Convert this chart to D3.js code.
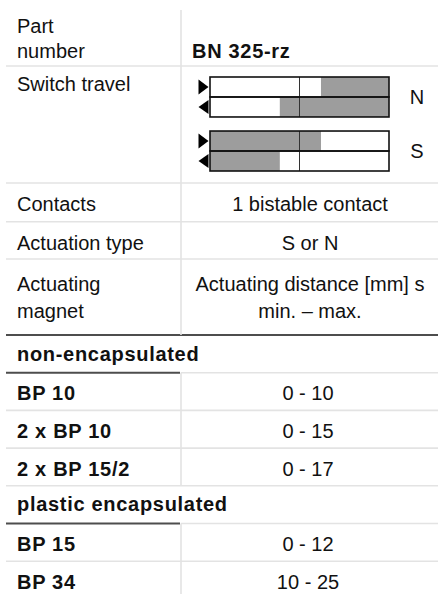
<!DOCTYPE html>
<html>
<head>
<meta charset="utf-8">
<script src="https://cdn.jsdelivr.net/npm/d3@7"></script>
<style>
  html, body { margin: 0; padding: 0; background: #fff; }
  svg { display: block; }
  text { font-family: "Liberation Sans", Arial, Helvetica, sans-serif; fill: #111; }
</style>
</head>
<body>
<script>
// ---------- data ----------
const propLabels = [["Part", "number"], ["Switch travel"], ["Contacts"], ["Actuation type"], ["Actuating", "magnet"]];
const propValues = [["BN 325-rz"], [], ["1 bistable contact"], ["S or N"], ["Actuating distance [mm] s", "min. – max."]];

// switch travel diagram: positions in % of travel, shaded (switched) segments
const travelGroups = ["N", "S"];
const travelDirections = ["forward", "backward"];
const shadedFrom = [[62, 39], [0, 0]];   // [group][direction]
const shadedTo   = [[100, 100], [62, 39]];
const travelMid = 50;

const magnetGroups = ["non-encapsulated", "plastic encapsulated"];
const magnetNames = ["BP 10", "2 x BP 10", "2 x BP 15/2", "BP 15", "BP 34"];
const magnetGroupIndex = [0, 0, 0, 1, 1];
const distMin = [0, 0, 0, 0, 10];
const distMax = [10, 15, 17, 12, 25];

// ---------- layout ----------
const W = 438, H = 594;
const leftX = 6, colX = 181, textX = 17, valueCenter = 310;
const svg = d3.select("body").append("svg").attr("width", W).attr("height", H);

const lightLine = "#e3e3e3", darkLine = "#4d4d4d";
function hline(y, x1, x2, color, w) {
  svg.append("line").attr("x1", x1).attr("x2", x2).attr("y1", y).attr("y2", y)
    .attr("stroke", color).attr("stroke-width", w);
}
function vline(x, y1, y2) {
  svg.append("line").attr("x1", x).attr("x2", x).attr("y1", y1).attr("y2", y2)
    .attr("stroke", lightLine).attr("stroke-width", 1.6);
}

// property rows
const propTops = [10, 66, 183, 221.7, 259, 335];
const labelBaselines = [[33.3, 58.3], [91], [210.7], [250], [291, 317.5]];
const valueBaselines = [[58.3], [], [210.7], [250], [291, 317.5]];

propTops.slice(1, 5).forEach(y => hline(y, leftX, W, lightLine, 1.6));
hline(335, leftX, W, darkLine, 2);
vline(colX, 10, 335);

propLabels.forEach((lines, i) => {
  lines.forEach((t, j) => {
    svg.append("text").attr("x", textX).attr("y", labelBaselines[i][j])
      .attr("font-size", 20).text(t);
  });
});
propValues.forEach((lines, i) => {
  lines.forEach((t, j) => {
    const header = i === 0;
    svg.append("text")
      .attr("x", header ? 192 : valueCenter)
      .attr("y", valueBaselines[i][j])
      .attr("text-anchor", header ? "start" : "middle")
      .attr("font-size", 20)
      .attr("font-weight", header ? "bold" : null)
      .attr("letter-spacing", header ? 0.7 : null)
      .text(t);
  });
});

// ---------- switch travel diagram ----------
const x = d3.scaleLinear().domain([0, 100]).range([210, 389]);
const gy = d3.scaleBand().domain(travelGroups).range([77, 171]).paddingInner(0.26);
const ry = d3.scaleBand().domain(travelDirections).range([0, gy.bandwidth()]);

const g = svg.append("g");
travelGroups.forEach((grp, gi) => {
  travelDirections.forEach((dir, di) => {
    const y0 = gy(grp) + ry(dir), h = ry.bandwidth();
    g.append("rect").attr("x", x(0)).attr("y", y0).attr("width", x(100) - x(0)).attr("height", h)
      .attr("fill", "#fff");
    g.append("rect").attr("x", x(shadedFrom[gi][di])).attr("y", y0)
      .attr("width", x(shadedTo[gi][di]) - x(shadedFrom[gi][di])).attr("height", h)
      .attr("fill", "#9d9d9d");
    // direction triangle
    const cy = y0 + h / 2, tx0 = 198.5, tx1 = 208.5;
    const pts = dir === "forward"
      ? [[tx0, cy - 7.5], [tx1, cy], [tx0, cy + 7.5]]
      : [[tx1, cy - 7], [tx0, cy], [tx1, cy + 7]];
    g.append("path").attr("d", d3.line()(pts) + "Z").attr("fill", "#000");
  });
  // mid line
  g.append("line").attr("x1", x(travelMid)).attr("x2", x(travelMid))
    .attr("y1", gy(grp)).attr("y2", gy(grp) + gy.bandwidth())
    .attr("stroke", "#333").attr("stroke-width", 1);
  // outlines
  travelDirections.forEach(dir => {
    g.append("rect").attr("x", x(0)).attr("y", gy(grp) + ry(dir))
      .attr("width", x(100) - x(0)).attr("height", ry.bandwidth())
      .attr("fill", "none").attr("stroke", "#111").attr("stroke-width", 1.6);
  });
  svg.append("text").attr("x", 417).attr("y", gy(grp) + gy.bandwidth() / 2 + 7)
    .attr("text-anchor", "middle").attr("font-size", 20).text(grp);
});

// ---------- magnet table ----------
const rowH = 37.7;
let y = 335;
magnetGroups.forEach((grpName, gi) => {
  // group header row
  svg.append("text").attr("x", textX).attr("y", y + 25.5).attr("font-size", 20)
    .attr("font-weight", "bold").attr("letter-spacing", 0.7).text(grpName);
  y += rowH;
  hline(y, colX, W, lightLine, 1.6);
  hline(y, leftX, colX - 1, darkLine, 2);
  const rowsStart = y;
  magnetNames.forEach((name, i) => {
    if (magnetGroupIndex[i] !== gi) return;
    svg.append("text").attr("x", textX).attr("y", y + 27.5).attr("font-size", 20)
      .attr("font-weight", "bold").attr("letter-spacing", 0.7).text(name);
    svg.append("text").attr("x", valueCenter - 2).attr("y", y + 27.5).attr("font-size", 20)
      .attr("text-anchor", "middle").text(distMin[i] + " - " + distMax[i]);
    y += rowH;
    if (y < H) hline(y, leftX, W, lightLine, 1.6);
  });
  vline(colX, rowsStart, Math.min(y, H));
});
</script>
</body>
</html>
